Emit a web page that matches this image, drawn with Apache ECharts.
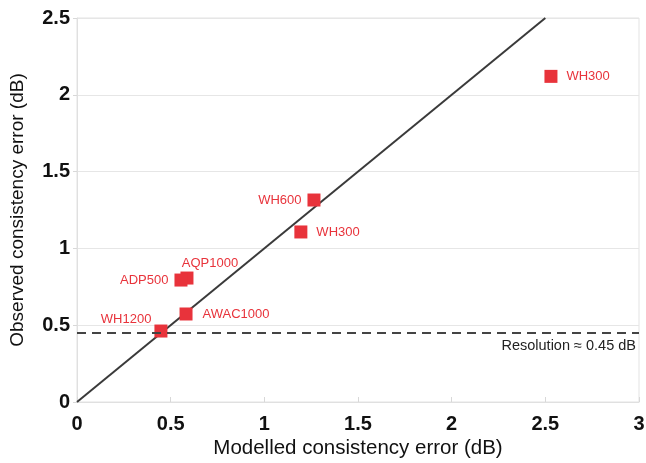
<!DOCTYPE html>
<html>
<head>
<meta charset="utf-8">
<script src="https://cdn.jsdelivr.net/npm/echarts@6/dist/echarts.min.js"></script>
<style>html,body{margin:0;padding:0;background:#fff;}#c{width:646px;height:463px;}</style>
</head>
<body>
<div id="c"></div>
<script>
// Data
const instruments = ['WH300', 'WH600', 'WH300', 'AQP1000', 'ADP500', 'AWAC1000', 'WH1200'];
const modelled   = [2.53, 1.265, 1.195, 0.587, 0.555, 0.582, 0.448];
const observed   = [2.12, 1.315, 1.107, 0.807, 0.794, 0.573, 0.462];
const oneToOne   = [[0, 0], [2.5, 2.5]];
const resolution = 0.45;
const resolutionLabel = 'Resolution \u2248 0.45 dB';
const xTicks = [0, 0.5, 1, 1.5, 2, 2.5, 3];
const yTicks = [0, 0.5, 1, 1.5, 2, 2.5];

// label placement per point (style only)
const labelPlace = [
  {position: 'right', distance: 9},
  {position: 'left', distance: 6},
  {position: 'right', distance: 9},
  {position: 'top', distance: 2, offset: [23, 0]},
  {position: 'left', distance: 6},
  {position: 'right', distance: 10},
  {position: 'left', distance: 3, offset: [0, -12]}
];

const red = '#e8333b';
const font = '"Liberation Sans", Arial, Helvetica, sans-serif';

const points = instruments.map((n, i) => ({
  name: n,
  value: [modelled[i], observed[i]],
  label: Object.assign({show: true, formatter: n}, labelPlace[i])
}));

const chart = echarts.init(document.getElementById('c'), null, {renderer: 'canvas'});
chart.setOption({
  animation: false,
  backgroundColor: '#fff',
  grid: {left: 77, right: 7, top: 18, bottom: 61, show: true, borderColor: '#e3e3e3', borderWidth: 1,
         containLabel: false, outerBoundsMode: 'none'},
  xAxis: {
    type: 'value', min: xTicks[0], max: xTicks[xTicks.length - 1], interval: 0.5,
    name: 'Modelled consistency error (dB)', nameLocation: 'middle', nameGap: 36,
    nameMoveOverlap: false,
    nameTextStyle: {fontFamily: font, fontSize: 20.5, color: '#111'},
    axisLine: {show: true, lineStyle: {color: '#e0e0e0'}},
    axisTick: {show: true, inside: true, length: 5, lineStyle: {color: '#d8d8d8'}},
    axisLabel: {fontFamily: font, fontSize: 20, fontWeight: 'bold', color: '#111', margin: 12},
    splitLine: {show: false}
  },
  yAxis: {
    type: 'value', min: yTicks[0], max: yTicks[yTicks.length - 1], interval: 0.5,
    name: 'Observed consistency error (dB)', nameLocation: 'middle', nameGap: 50,
    nameTextStyle: {fontFamily: font, fontSize: 19, color: '#111'},
    axisLine: {show: true, lineStyle: {color: '#e0e0e0'}},
    axisTick: {show: true, inside: false, length: 4, lineStyle: {color: '#d8d8d8'}},
    axisLabel: {fontFamily: font, fontSize: 20, fontWeight: 'bold', color: '#111', margin: 7},
    splitLine: {show: true, lineStyle: {color: '#e6e6e6', width: 1}}
  },
  series: [
    {
      type: 'line', data: oneToOne, symbol: 'none', silent: true,
      lineStyle: {color: '#3a3a3a', width: 2}, z: 3,
      markLine: {
        silent: true, symbol: 'none',
        lineStyle: {color: '#444', width: 2, type: [9, 6]},
        label: {show: true, position: 'insideEndBottom', formatter: resolutionLabel,
                fontFamily: font, fontSize: 14.5, color: '#222', distance: [3, 6]},
        data: [{yAxis: resolution}]
      }
    },
    {
      type: 'scatter', data: points, symbol: 'rect', symbolSize: 13, z: 4,
      itemStyle: {color: red, opacity: 1},
      label: {color: red, fontFamily: font, fontSize: 13}
    }
  ]
});
</script>
</body>
</html>
